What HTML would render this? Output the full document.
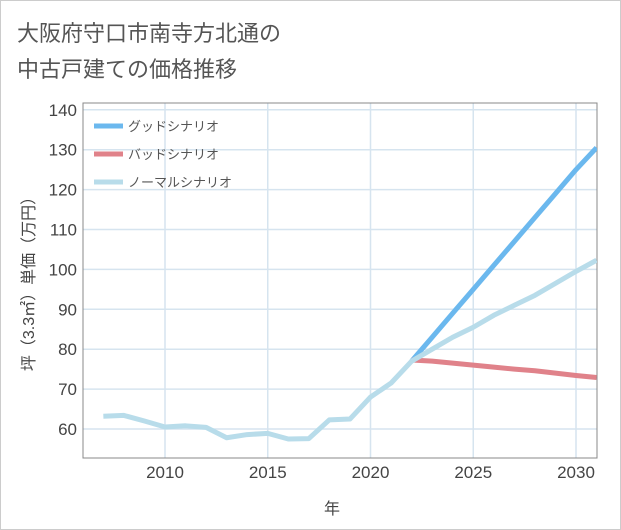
<!DOCTYPE html>
<html><head><meta charset="utf-8"><style>
body{margin:0;background:#fff;font-family:"Liberation Sans","Noto Sans CJK JP",sans-serif}
#wrap{position:relative;width:619px;height:528px;border:1px solid #ccc;background:#fff}
</style></head><body>
<div id="wrap">
<svg id="c" width="621" height="530" style="position:absolute;left:-1px;top:-1px">
<text x="17" y="41" font-size="22" fill="#555">大阪府守口市南寺方北通の</text>
<text x="17" y="77" font-size="22" fill="#555">中古戸建ての価格推移</text>
<text x="332" y="514" font-size="16" fill="#444" text-anchor="middle">年</text>
<text transform="translate(34,280) rotate(-90)" font-size="16" fill="#444" text-anchor="middle">坪（3.3㎡）単価（万円）</text>
</svg>
</div>
<script>
const years=[2007,2008,2009,2010,2011,2012,2013,2014,2015,2016,2017,2018,2019,2020,2021,2022,2023,2024,2025,2026,2027,2028,2029,2030,2031];
const normalVals=[63.2,63.4,62,60.5,60.8,60.4,57.8,58.6,58.9,57.5,57.6,62.3,62.5,68,71.5,77,80,83,85.5,88.5,91,93.5,96.5,99.5,102.3];
const goodYears=[2022,2023,2024,2025,2026,2027,2028,2029,2030,2031];
const goodVals=[77,83,89,95,101,107,113,119,125,130.5];
const badVals=[77.3,77,76.5,76,75.5,75,74.6,74,73.4,72.9];
const xTicks=[2010,2015,2020,2025,2030];
const yTicks=[60,70,80,90,100,110,120,130,140];
const NS="http://www.w3.org/2000/svg";
const svg=document.getElementById('c');
const L=83,R=597,T=103,B=458;
const xs=v=>165+(v-2010)*20.55;
const ys=v=>429-(v-60)*3.99;
function mk(t,a){const e=document.createElementNS(NS,t);for(const k in a)e.setAttribute(k,a[k]);svg.appendChild(e);return e;}
for(const y of yTicks){
 const g=mk('line',{x1:L,x2:R,y1:ys(y),y2:ys(y),stroke:'#d6e4ef','stroke-width':1.5});
 
 
 const t=mk('text',{x:L-6,y:ys(y)+6,'font-size':17,fill:'#444','text-anchor':'end'});t.textContent=y;
 
 
}
for(const x of xTicks){
 const g=mk('line',{x1:xs(x),x2:xs(x),y1:T,y2:B,stroke:'#d6e4ef','stroke-width':1.5});
 
 
 const t=mk('text',{x:xs(x),y:B+20,'font-size':17,fill:'#444','text-anchor':'middle'});t.textContent=x;
 
 
}
const fr=mk('rect',{x:L,y:T,width:R-L,height:B-T,fill:'none',stroke:'#888','stroke-width':1});


const clip=mk('clipPath',{id:'cp'});const cr=document.createElementNS(NS,'rect');
cr.setAttribute('x',L);cr.setAttribute('y',T);cr.setAttribute('width',R-L);cr.setAttribute('height',B-T);clip.appendChild(cr);
function line(xv,yv,col,name){
 const p=mk('polyline',{points:xv.map((x,i)=>xs(x)+','+ys(yv[i])).join(' '),fill:'none',stroke:col,'stroke-width':5,'stroke-linejoin':'round','clip-path':'url(#cp)'});
 
 
}
line(goodYears,goodVals,'#6bb8ee','good-scenario-line');
line(goodYears,badVals,'#e0828a','bad-scenario-line');
line(years,normalVals,'#b8dcea','normal-scenario-line');
const leg=[['グッドシナリオ','#6bb8ee'],['バッドシナリオ','#e0828a'],['ノーマルシナリオ','#b8dcea']];
leg.forEach((l,i)=>{
 const y=126+i*28;
 const s=mk('line',{x1:94,x2:123,y1:y,y2:y,stroke:l[1],'stroke-width':5});
 
 
 const t=mk('text',{x:128,y:y+5,'font-size':13,fill:'#555'});t.textContent=l[0];
 
 
});
</script>
</body></html>
